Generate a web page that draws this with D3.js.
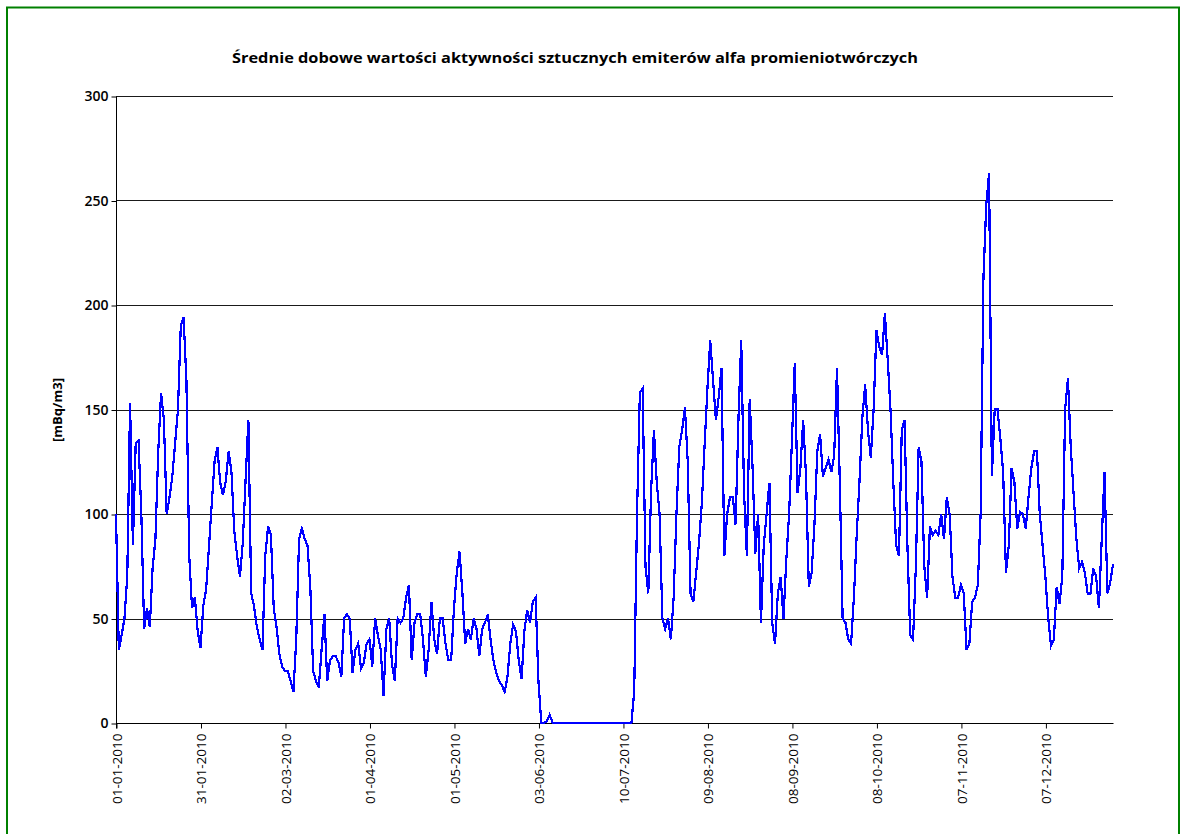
<!DOCTYPE html>
<html>
<head>
<meta charset="utf-8">
<script src="https://cdn.jsdelivr.net/npm/d3@7"></script>
<style>
  html, body { margin: 0; padding: 0; background: #fff; }
  svg { display: block; }
  text { font-family: "Open Sans", "DejaVu Sans", sans-serif; fill: #000; }
</style>
</head>
<body>
<svg id="chart" width="1182" height="834"></svg>
<script>
// Daily mean activity of artificial alpha emitters, 2010 (mBq/m3)
const chartTitle = "Średnie dobowe wartości aktywności sztucznych emiterów alfa promieniotwórczych";
const yTitle = "[mBq/m3]";

// one value per measurement day (days without data are skipped)
const dailyValues = [
  100, 35, 42, 50, 70, 153, 85, 134, 135, 100,
  45, 55, 46, 74, 88, 130, 158, 145, 100, 108,
  118, 134, 150, 190, 194, 164, 80, 55, 60, 44,
  36, 56, 64, 84, 105, 125, 132, 115, 109, 116,
  130, 120, 92, 80, 70, 86, 116, 145, 62, 56,
  46, 40, 35, 80, 94, 90, 55, 46, 33, 27,
  25, 25, 20, 15, 40, 88, 93, 88, 85, 65,
  25, 20, 17, 35, 52, 20, 30, 32, 32, 29,
  22, 50, 52, 50, 24, 35, 38, 26, 29, 38,
  40, 27, 50, 42, 35, 13, 45, 50, 28, 20,
  50, 48, 50, 60, 66, 30, 48, 52, 52, 40,
  22, 35, 58, 40, 33, 50, 50, 38, 30, 30,
  55, 72, 82, 62, 38, 45, 40, 50, 45, 32,
  45, 48, 52, 40, 30, 24, 20, 18, 15, 22,
  38, 47, 44, 30, 21, 44, 54, 48, 58, 60,
  20, 0, 0, 1, 4, 0, 0, 0, 0, 0,
  0, 0, 0, 0, 0, 0, 0, 0, 0, 0,
  0, 0, 0, 0, 0, 0, 0, 0, 0, 0,
  0, 0, 0, 0, 15, 100, 158, 160, 75, 62,
  111, 140, 115, 100, 50, 45, 50, 40, 60, 100,
  132, 140, 151, 125, 62, 58, 72, 86, 105, 133,
  160, 183, 164, 145, 156, 170, 80, 100, 108, 108,
  95, 145, 183, 110, 80, 155, 123, 81, 100, 48,
  85, 100, 115, 48, 38, 62, 70, 50, 78, 100,
  135, 172, 110, 122, 145, 118, 65, 72, 95, 130,
  138, 118, 122, 126, 120, 128, 170, 115, 50, 48,
  40, 38, 60, 90, 116, 146, 162, 140, 127, 150,
  188, 180, 176, 196, 174, 150, 115, 85, 80, 140,
  145, 85, 42, 40, 75, 132, 125, 75, 60, 94,
  90, 92, 90, 100, 88, 108, 100, 70, 60, 60,
  66, 62, 35, 38, 58, 60, 66, 100, 213, 248,
  263, 118, 150, 150, 136, 120, 72, 85, 122, 115,
  93, 101, 100, 93, 108, 122, 130, 130, 100, 85,
  70, 50, 37, 40, 65, 57, 70, 150, 165, 132,
  110, 88, 74, 77, 72, 62, 62, 74, 70, 55,
  88, 120, 62, 67, 76
];

// a date label is shown on every 30th measurement day
const labelEvery = 30;
const xTickLabels = [
  "01-01-2010", "31-01-2010", "02-03-2010", "01-04-2010", "01-05-2010", "03-06-2010",
  "10-07-2010", "09-08-2010", "08-09-2010", "08-10-2010", "07-11-2010", "07-12-2010"
];
const yTickValues = [0, 50, 100, 150, 200, 250, 300];

const svg = d3.select("#chart");
const W = 1182, H = 834;
const plot = { left: 116, right: 1113, top: 96, bottom: 723 };

svg.append("rect").attr("width", W).attr("height", H).attr("fill", "#fff");

// outer green frame
svg.append("rect")
  .attr("x", 7).attr("y", 7.5)
  .attr("width", 1172).attr("height", 900)
  .attr("fill", "none").attr("stroke", "#008000").attr("stroke-width", 2);

const x = d3.scaleLinear()
  .domain([0, dailyValues.length - 1])
  .range([plot.left, plot.right]);

const y = d3.scaleLinear()
  .domain([0, 300])
  .range([plot.bottom, plot.top]);

// horizontal grid lines
svg.append("g")
  .selectAll("line")
  .data(yTickValues)
  .join("line")
  .attr("x1", plot.left).attr("x2", plot.right)
  .attr("y1", d => Math.round(y(d)) + 0.5).attr("y2", d => Math.round(y(d)) + 0.5)
  .attr("stroke", "#1a1a1a").attr("stroke-width", 1);

// y axis
const yAxis = d3.axisLeft(y).tickValues(yTickValues).tickSize(5).tickPadding(3);
const gy = svg.append("g")
  .attr("transform", `translate(${plot.left + 0.5},0.5)`)
  .call(yAxis);
gy.select(".domain").attr("stroke", "#000").attr("d", `M0,${plot.top}V${plot.bottom + 5}`);
gy.selectAll(".tick line").attr("stroke", "#000");
gy.selectAll(".tick text")
  .style("font-size", "14px").style("font-weight", "600").attr("fill", "#111");

// x axis with rotated date labels
const tickIdx = xTickLabels.map((_, i) => i * labelEvery);
const xAxis = d3.axisBottom(x)
  .tickValues(tickIdx)
  .tickFormat((d, i) => xTickLabels[i])
  .tickSize(5);
const gx = svg.append("g")
  .attr("transform", `translate(0.5,${plot.bottom + 0.5})`)
  .call(xAxis);
gx.select(".domain").attr("stroke", "#000").attr("d", `M${plot.left},0H${plot.right}`);
gx.selectAll(".tick line").attr("stroke", "#000");
gx.selectAll(".tick text")
  .attr("transform", "rotate(-90)")
  .attr("text-anchor", "end")
  .attr("x", -10).attr("y", 0).attr("dy", "0.35em")
  .style("font-size", "13.5px").attr("fill", "#111");

// data line
const line = d3.line()
  .x((d, i) => x(i))
  .y(d => y(d));

svg.append("path")
  .datum(dailyValues)
  .attr("d", line)
  .attr("fill", "none")
  .attr("stroke", "#0000ff")
  .attr("stroke-width", 2.2)
  .attr("stroke-linejoin", "miter")
  .attr("shape-rendering", "crispEdges");

// titles
svg.append("text")
  .attr("x", 575).attr("y", 63)
  .attr("text-anchor", "middle")
  .attr("textLength", 686)
  .attr("lengthAdjust", "spacingAndGlyphs")
  .style("font-size", "15px").style("font-weight", "700")
  .text(chartTitle);

svg.append("text")
  .attr("transform", `translate(62,410) rotate(-90)`)
  .attr("text-anchor", "middle")
  .style("font-size", "13px").style("font-weight", "700")
  .text(yTitle);
</script>
</body>
</html>
